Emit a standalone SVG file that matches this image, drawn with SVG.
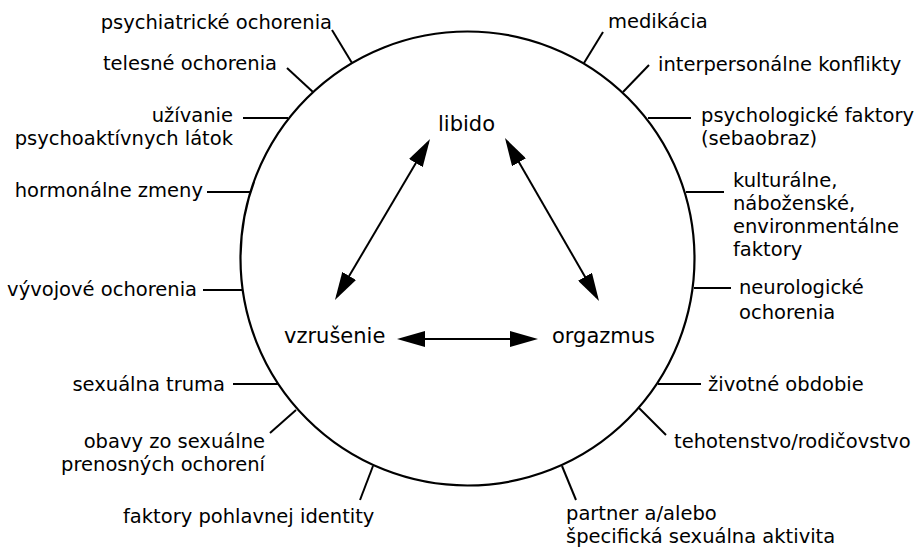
<svg xmlns="http://www.w3.org/2000/svg" width="916" height="548" viewBox="0 0 916 548">
<style>
  .lbl { font-family: "DejaVu Sans", "Open Sans", sans-serif; font-size: 19.5px; fill: #000; }
  .ctr { font-family: "DejaVu Sans", "Open Sans", sans-serif; font-size: 21px; fill: #000; }
  .end { text-anchor: end; }
  .tick { stroke: #000; stroke-width: 2; fill: none; }
  .arr { stroke: #000; stroke-width: 2; fill: none; marker-start: url(#head); marker-end: url(#head); }
</style>
<defs>
  <marker id="head" markerUnits="userSpaceOnUse" markerWidth="28" markerHeight="16" refX="24" refY="8" orient="auto-start-reverse">
    <path d="M0,0 L28,8 L0,16 z" fill="#000"/>
  </marker>
</defs>
<rect width="916" height="548" fill="#fff"/>
<g id="circle">
  <circle cx="467.5" cy="258.5" r="227" fill="none" stroke="#000" stroke-width="2.2"/>
</g>
<g id="libido"><text class="ctr" x="438" y="131">libido</text></g>
<g id="vzrusenie"><text class="ctr" x="284" y="343">vzrušenie</text></g>
<g id="orgazmus"><text class="ctr" x="552" y="343">orgazmus</text></g>
<g id="connectors">
  <line class="arr" x1="428" y1="142.4" x2="337" y2="296.6"/>
  <line class="arr" x1="507" y1="141.5" x2="597" y2="297.5"/>
  <line class="arr" x1="401" y1="339" x2="534" y2="339"/>
  <line class="tick" x1="332" y1="30" x2="352" y2="63"/>
  <line class="tick" x1="287" y1="68" x2="313" y2="92"/>
  <line class="tick" x1="243" y1="118" x2="288" y2="118"/>
  <line class="tick" x1="207" y1="192" x2="250" y2="192"/>
  <line class="tick" x1="203" y1="290" x2="242" y2="290"/>
  <line class="tick" x1="233" y1="384" x2="278" y2="384"/>
  <line class="tick" x1="270" y1="433" x2="296" y2="410"/>
  <line class="tick" x1="360" y1="500" x2="373" y2="466"/>
  <line class="tick" x1="603" y1="32" x2="584" y2="63"/>
  <line class="tick" x1="649" y1="65" x2="623" y2="92"/>
  <line class="tick" x1="648" y1="118" x2="691" y2="118"/>
  <line class="tick" x1="686" y1="192" x2="724" y2="192"/>
  <line class="tick" x1="694" y1="288" x2="731" y2="288"/>
  <line class="tick" x1="658" y1="384" x2="701" y2="384"/>
  <line class="tick" x1="639" y1="408" x2="666" y2="435"/>
  <line class="tick" x1="562" y1="466" x2="576" y2="500"/>
</g>
<g id="psychiatricke"><text class="lbl end" x="332" y="29">psychiatrické ochorenia</text></g>
<g id="telesne"><text class="lbl end" x="277" y="70">telesné ochorenia</text></g>
<g id="uzivanie"><text class="lbl end" x="233" y="122">užívanie</text><text class="lbl end" x="233" y="145">psychoaktívnych látok</text></g>
<g id="hormonalne"><text class="lbl end" x="203" y="197">hormonálne zmeny</text></g>
<g id="vyvojove"><text class="lbl end" x="197" y="296">vývojové ochorenia</text></g>
<g id="trauma"><text class="lbl end" x="225" y="391">sexuálna truma</text></g>
<g id="obavy"><text class="lbl end" x="265" y="448">obavy zo sexuálne</text><text class="lbl end" x="265" y="471">prenosných ochorení</text></g>
<g id="identita"><text class="lbl" x="123" y="523">faktory pohlavnej identity</text></g>
<g id="medikacia"><text class="lbl" x="608" y="28">medikácia</text></g>
<g id="konflikty"><text class="lbl" x="658" y="71">interpersonálne konflikty</text></g>
<g id="psychologicke"><text class="lbl" x="701" y="122">psychologické faktory</text><text class="lbl" x="701" y="145">(sebaobraz)</text></g>
<g id="kulturalne"><text class="lbl" x="733" y="187">kulturálne,</text><text class="lbl" x="733" y="210">náboženské,</text><text class="lbl" x="733" y="233">environmentálne</text><text class="lbl" x="733" y="256">faktory</text></g>
<g id="neurologicke"><text class="lbl" x="739" y="294">neurologické</text><text class="lbl" x="739" y="319">ochorenia</text></g>
<g id="obdobie"><text class="lbl" x="708" y="391">životné obdobie</text></g>
<g id="tehotenstvo"><text class="lbl" x="674" y="448">tehotenstvo/rodičovstvo</text></g>
<g id="partner"><text class="lbl" x="566" y="520">partner a/alebo</text><text class="lbl" x="566" y="543">špecifická sexuálna aktivita</text></g>
</svg>
